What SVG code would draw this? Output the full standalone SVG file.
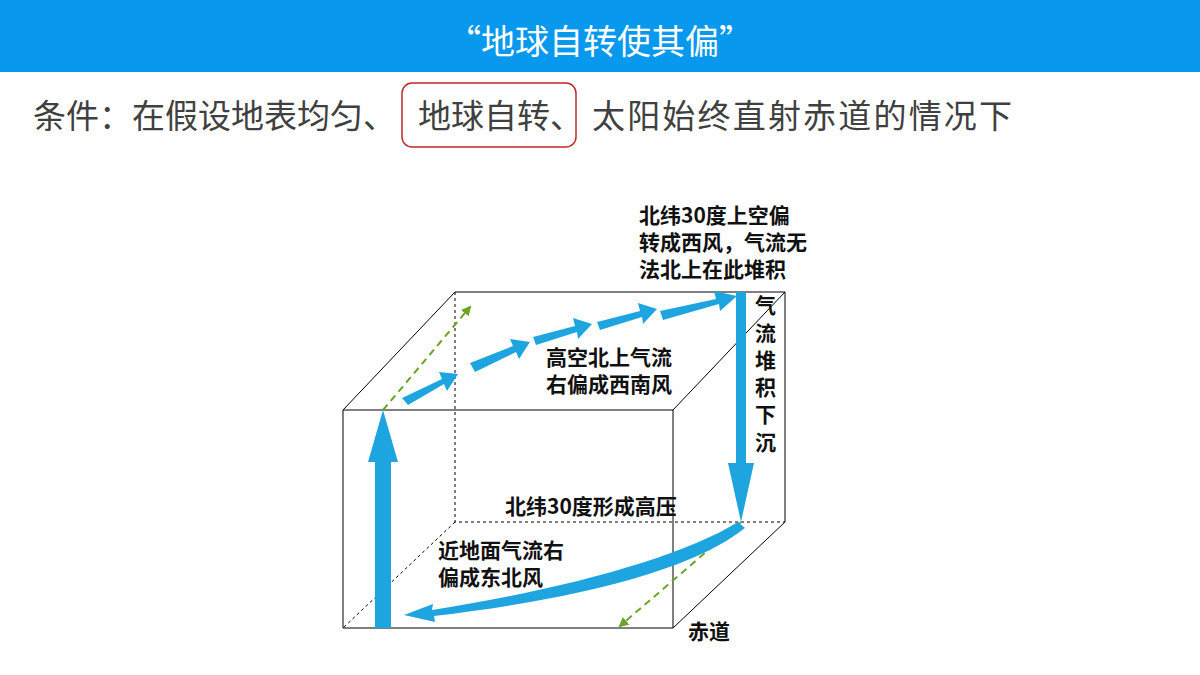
<svg xmlns="http://www.w3.org/2000/svg" width="1200" height="675" viewBox="0 0 1200 675">
<defs>
<style>
.t{font-family:"Noto Sans CJK SC","Noto Sans",sans-serif}
.b{font-family:"Noto Sans CJK SC",sans-serif;font-weight:bold;font-size:21px;fill:#111}
.e{stroke:#000;stroke-width:1;fill:none}
.d{stroke:#000;stroke-width:1;fill:none;stroke-dasharray:3,3}
.g{stroke:#6aa526;stroke-width:2;fill:none;stroke-dasharray:7,5}
.a{fill:#1ea5e0}
</style>
<marker id="gh" viewBox="0 0 10 10" refX="8" refY="5" markerWidth="5" markerHeight="5" orient="auto"><path d="M0,0L10,5L0,10z" fill="#6aa526"/></marker>
</defs>
<rect x="0" y="0" width="1200" height="72" fill="#0898ee"/>
<text class="t" x="600" y="54" font-size="34" fill="#fff" text-anchor="middle">“地球自转使其偏”</text>
<g id="condition">
<text class="t" x="33" y="128" font-size="33" fill="#404040">条件：在假设地表均匀、</text>
<rect x="402" y="83" width="174" height="64" rx="10" fill="none" stroke="#c0282a" stroke-width="1.5"/>
<text class="t" x="418" y="128" font-size="33" fill="#404040">地球自转、</text>
<text class="t" x="592" y="128" font-size="33" fill="#404040" textLength="420">太阳始终直射赤道的情况下</text>
</g>
<g id="box">
<path class="e" d="M343,410H673V628H343Z"/>
<path class="e" d="M343,410L455,292H785V522L673,628M673,410L785,292"/>
<path class="d" d="M455,292V522H785M455,522L343,628"/>
</g>
<g id="connectors">
<line class="g" x1="383" y1="410" x2="470" y2="307" marker-end="url(#gh)"/>
<line class="g" x1="741" y1="522" x2="620" y2="626" marker-end="url(#gh)"/>
<path class="a" d="M375,628V462H368L383,410L398,462H391V628Z"/>
<path class="a" d="M736,292H746V463H754L741,522L728,463H736Z"/>
<g class="a">
<path d="M402,398L442,379L439,372L458,374L447,391L444,384L408,405Z"/>
<path d="M470,363L513,346L510,339L530,342L519,359L516,352L475,372Z"/>
<path d="M533,337L575,326L573,318L592,324L578,339L577,332L536,345Z"/>
<path d="M597,322L640,311L638,303L657,309L643,324L642,317L600,330Z"/>
<path d="M660,311L716,299L714,291L737,296L720,311L719,304L663,320Z"/>
</g>
<path class="a" d="M738,522C680,558 560,590 432,610L433,604L404,615L435,622L434,616C570,600 690,572 745,528Z"/>
</g>
<g id="labels">
<text class="b" x="639" y="223">北纬30度上空偏</text>
<text class="b" x="639" y="250">转成西风，气流无</text>
<text class="b" x="639" y="277">法北上在此堆积</text>
<text class="b" x="546" y="365">高空北上气流</text>
<text class="b" x="546" y="392">右偏成西南风</text>
<g class="b">
<text x="755" y="313">气</text><text x="755" y="341">流</text><text x="755" y="368">堆</text><text x="755" y="395">积</text><text x="755" y="422">下</text><text x="755" y="450">沉</text>
</g>
<text class="b" x="505" y="514">北纬30度形成高压</text>
<text class="b" x="438" y="558">近地面气流右</text>
<text class="b" x="438" y="585">偏成东北风</text>
<text class="b" x="688" y="639">赤道</text>
</g>
</svg>
